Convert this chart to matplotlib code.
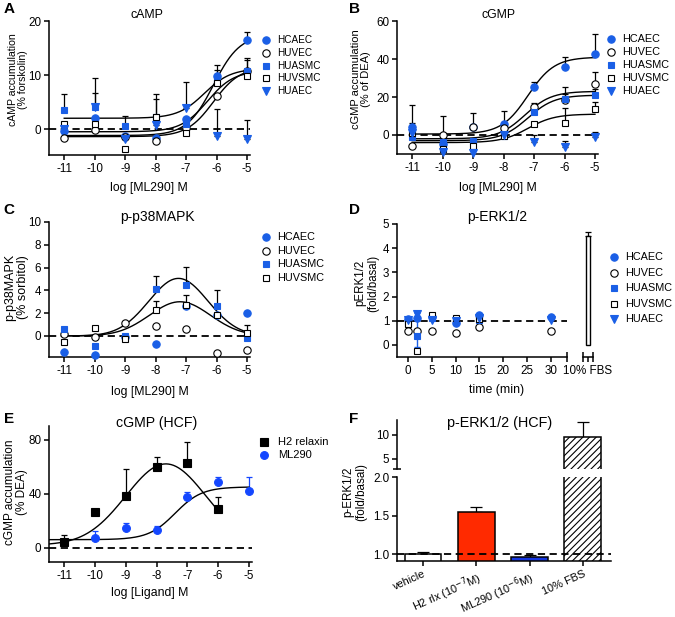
import matplotlib
matplotlib.use('Agg')
import matplotlib.pyplot as plt
import numpy as np
from matplotlib.lines import Line2D

plt.rcParams['font.family'] = ['Liberation Sans', 'DejaVu Sans']
plt.rcParams['axes.unicode_minus'] = False
plt.rcParams['hatch.linewidth'] = 0.8

W, H = 675, 617
BLUE = '#1a5fe6'
BLUE_E = '#1447ff'
RED = '#ff2a00'

# ---------------- data ----------------
log_conc = [-11, -10, -9, -8, -7, -6, -5]
cells = ['HCAEC', 'HUVEC', 'HUASMC', 'HUVSMC', 'HUAEC']

# A: cAMP accumulation (% forskolin)
camp_vals = [
    [-0.3, 2.1, -1.2, -1.7, 1.9, 9.8, 16.4],   # HCAEC
    [-1.7, -0.1, -1.4, -2.2, 0.2, 6.2, 10.7],  # HUVEC
    [3.5, 4.0, 0.5, 2.2, 1.0, 9.1, 10.7],      # HUASMC
    [1.0, 1.0, -3.7, 2.2, -0.7, 8.5, 9.8],     # HUVSMC
    [0.0, 4.1, -1.9, 0.8, 3.9, -1.2, -1.8],    # HUAEC
]
camp_err = [
    [0, 0, 0, 0, 0, 2.0, 1.5],
    [0, 0, 0, 0, 0, 0, 2.4],
    [2.9, 2.7, 2.0, 4.2, 0, 1.8, 2.0],
    [0, 0, 0, 0, 0, 0, 0],
    [0, 5.4, 0, 4.8, 4.9, 5.0, 3.4],
]
# fitted curves: bottom, top, logEC50 (HUAEC not fitted)
camp_fit = [(-1.2, 17.5, -6.1), (-1.4, 11.5, -6.1), (2.0, 11.2, -6.4), (-0.5, 10.8, -6.3)]

# B: cGMP accumulation (% of DEA)
cgmp_vals = [
    [4.4, -4.7, 4.0, 5.8, 25.1, 35.8, 42.5],
    [-5.6, 0.0, 4.4, 3.9, 14.6, 18.2, 26.7],
    [-0.9, -3.5, -3.0, -0.5, 11.9, 18.8, 21.2],
    [1.2, -7.4, -5.6, -0.5, 5.8, 6.1, 13.9],
    [1.2, -9.1, -9.3, 0.0, -3.9, -6.1, -0.9],
]
cgmp_err = [
    [11.4, 3.5, 7.8, 6.8, 2.6, 5.1, 10.5],
    [0, 10.0, 0, 0, 2.4, 6.8, 6.3],
    [0, 0, 0, 0, 0, 3.0, 3.0],
    [0, 0, 0, 0, 0, 8.3, 3.6],
    [5.0, 0, 0, 0, 4.0, 3.0, 2.3],
]
cgmp_fit = [(0.5, 41.0, -7.2), (-2.0, 23.0, -7.3), (-3.0, 21.0, -7.2), (-4.0, 11.0, -7.2)]

# C: p-p38MAPK (% sorbitol)
p38_vals = [
    [-1.4, -1.65, -0.1, -0.7, 2.6, 1.8, 2.05],
    [0.2, -0.1, 1.1, 0.85, 0.65, -1.5, -1.2],
    [0.6, -0.9, 0.0, 4.1, 4.5, 2.6, -0.2],
    [-0.5, 0.7, -0.25, 2.3, 2.7, 1.8, 0.25],
]
p38_err = [
    [0, 0, 0, 0, 0, 0, 0],
    [0, 0, 0, 0, 0, 0, 0],
    [0, 0, 0, 1.2, 1.55, 1.4, 0],
    [0, 0, 0, 0.8, 0.85, 0, 0.75],
]
# bell-shaped fits: peak, centre, width
p38_fit = [(5.05, -7.25, 0.97), (3.0, -7.2, 1.0)]

# D: p-ERK1/2 (fold/basal) time course
time_min = [0, 2, 5, 10, 15, 30]
erk_vals = [
    [1.06, 1.1, 1.17, 0.9, 1.24, 1.16],
    [0.58, 0.58, 0.58, 0.48, 0.74, 0.58],
    [0.9, 0.37, 1.13, 1.0, 1.03, None],
    [0.85, -0.27, 1.22, 1.13, 1.08, None],
    [1.05, 1.27, 1.03, 1.0, 1.13, 1.05],
]
fbs_erk, fbs_erk_err = 4.5, 0.17

# E: cGMP (HCF)
relaxin_vals = [4.4, 26.1, 38.4, 59.9, 62.3, 28.6]
relaxin_err = [5.0, 0, 19.6, 7.3, 16.0, 9.1]
relaxin_conc = [-11, -10, -9, -8, -7, -6]
ml290_conc = [-10, -9, -8, -7, -6, -5]
ml290_vals = [7.4, 14.8, 13.1, 37.2, 48.3, 41.9]
ml290_err = [4.9, 3.7, 3.0, 3.7, 4.2, 10.1]
relaxin_fit = (2.0, 60.0, -7.7, 1.3)   # base, peak, centre, width
ml290_fit = (6.0, 45.0, -7.4)          # bottom, top, logEC50

# F: p-ERK1/2 (HCF)
f_labels = ['vehicle', 'H2 rlx (10$^{-7}$M)', 'ML290 (10$^{-6}$M)', '10% FBS']
f_vals = [1.0, 1.55, 0.96, 9.4]
f_err = [0.03, 0.06, 0.03, 3.2]
f_colors = ['white', RED, '#1737e0', 'white']
f_hatch = [None, None, None, '/////']

# ---------------- styles ----------------
styles = [
    dict(marker='o', ms=5.3, mfc=BLUE, mec=BLUE, mew=0.8),
    dict(marker='o', ms=5.3, mfc='white', mec='black', mew=0.8),
    dict(marker='s', ms=5.0, mfc=BLUE, mec=BLUE, mew=0.8),
    dict(marker='s', ms=5.0, mfc='white', mec='black', mew=0.8),
    dict(marker='v', ms=5.3, mfc=BLUE, mec=BLUE, mew=0.8),
]
TICK_FS = 8.4


def px_rect(l, t, r, b):
    return [l / W, 1 - b / H, (r - l) / W, (b - t) / H]


def fx(x):
    return x / W


def fy(y):
    return 1 - y / H


def style_axes(ax):
    for s in ['top', 'right']:
        ax.spines[s].set_visible(False)
    for s in ['left', 'bottom']:
        ax.spines[s].set_linewidth(1.1)
    ax.tick_params(direction='out', length=3.5, width=1.1, labelsize=TICK_FS, pad=2)


def draw_points(ax, x, y, err, st, ecol='black'):
    x = np.array(x, dtype=float)
    y = np.array([np.nan if v is None else v for v in y], dtype=float)
    if err is not None:
        err = np.array(err, dtype=float)
        m = err > 0
        if m.any():
            ax.errorbar(x[m], y[m], yerr=[np.zeros(m.sum()), err[m]], fmt='none',
                        ecolor=ecol, elinewidth=0.9, capsize=2.5, capthick=0.9, zorder=2)
    ax.plot(x, y, linestyle='none', zorder=4, clip_on=False, **st)


def sigmoid(x, bottom, top, ec50):
    return bottom + (top - bottom) / (1 + 10 ** (ec50 - x))


def legend_px(fig, x, y0, dy, entries, tx=11, fs=7.8):
    for i, (label, st) in enumerate(entries):
        yy = fy(y0 + i * dy)
        fig.add_artist(Line2D([fx(x)], [yy], transform=fig.transFigure, linestyle='none', **st))
        fig.text(fx(x + tx), yy, label, fontsize=fs, va='center', ha='left')


def dashed(ax, y):
    ax.axhline(y, color='black', lw=1.3, ls=(0, (4, 2.5)), zorder=3)


fig = plt.figure(figsize=(W / 100, H / 100), dpi=100)
xs = np.linspace(-11, -5, 200)

# ---------------- A ----------------
axA = fig.add_axes(px_rect(49, 21, 250, 155))
style_axes(axA)
dashed(axA, 0)
for p in camp_fit:
    axA.plot(xs, sigmoid(xs, *p), color='black', lw=1.0, zorder=3)
for vals, err, st in zip(camp_vals, camp_err, styles):
    draw_points(axA, log_conc, vals, err, st)
axA.set_xlim(-11.5, -4.9)
axA.set_ylim(-4.8, 20)
axA.set_xticks(log_conc)
axA.set_yticks([0, 10, 20])

# ---------------- B ----------------
axB = fig.add_axes(px_rect(397, 21, 598, 154))
style_axes(axB)
dashed(axB, 0)
for p in cgmp_fit:
    axB.plot(xs, sigmoid(xs, *p), color='black', lw=1.0, zorder=3)
for vals, err, st in zip(cgmp_vals, cgmp_err, styles):
    draw_points(axB, log_conc, vals, err, st)
axB.set_xlim(-11.5, -4.9)
axB.set_ylim(-10, 60)
axB.set_xticks(log_conc)
axB.set_yticks([0, 20, 40, 60])

# ---------------- C ----------------
axC = fig.add_axes(px_rect(49, 222, 250, 357))
style_axes(axC)
dashed(axC, 0)
for peak, c, w in p38_fit:
    axC.plot(xs, peak * np.exp(-0.5 * ((xs - c) / w) ** 2), color='black', lw=1.0, zorder=3)
for vals, err, st in zip(p38_vals, p38_err, styles[:4]):
    draw_points(axC, log_conc, vals, err, st)
axC.set_xlim(-11.5, -4.9)
axC.set_ylim(-1.85, 10)
axC.set_xticks(log_conc)
axC.set_yticks([0, 2, 4, 6, 8, 10])

# ---------------- D ----------------
axD = fig.add_axes(px_rect(397, 224, 567, 357))
style_axes(axD)
dashed(axD, 1)
axD.errorbar([2], [erk_vals[2][1]], yerr=[[0.45], [0.95]], fmt='none', ecolor=BLUE,
             elinewidth=1.0, capsize=2.5, capthick=1.0, zorder=2)
for vals, st in zip(erk_vals, styles):
    draw_points(axD, time_min, vals, None, st)
axD.set_xlim(-2.3, 33.4)
axD.set_ylim(-0.5, 5)
axD.set_xticks([0, 5, 10, 15, 20, 25, 30])
axD.set_yticks([0, 1, 2, 3, 4, 5])
axD.plot([33.4], [-0.5], marker='|', ms=7, mew=1.1, color='black', clip_on=False)

axD2 = fig.add_axes(px_rect(583, 224, 593, 357))
style_axes(axD2)
axD2.spines['left'].set_visible(False)
axD2.bar([0], [fbs_erk], width=0.85, color='white', edgecolor='black', lw=1.0, zorder=3)
axD2.errorbar([0], [fbs_erk], yerr=[[0], [fbs_erk_err]], fmt='none', ecolor='black',
              elinewidth=0.9, capsize=2.0, capthick=0.9)
axD2.set_xlim(-1, 1)
axD2.set_ylim(-0.5, 5)
axD2.set_yticks([])
axD2.set_xticks([0])
axD2.set_xticklabels(['10% FBS'])
axD2.plot([-1, 1], [-0.5, -0.5], marker='|', ms=7, mew=1.1, color='black', lw=0, clip_on=False)

# ---------------- E ----------------
axE = fig.add_axes(px_rect(49, 426, 252, 562))
style_axes(axE)
dashed(axE, 0)
xr = np.linspace(-11.5, -6.05, 200)
b, pk, c, w = relaxin_fit
axE.plot(xr, b + pk * np.exp(-0.5 * ((xr - c) / w) ** 2), color='black', lw=1.0, zorder=3)
xm = np.linspace(-11.5, -5, 200)
axE.plot(xm, sigmoid(xm, *ml290_fit), color='black', lw=1.0, zorder=3)
st_rlx = dict(marker='s', ms=5.2, mfc='black', mec='black', mew=0.8)
st_ml = dict(marker='o', ms=5.6, mfc=BLUE_E, mec=BLUE_E, mew=0.8)
draw_points(axE, relaxin_conc, relaxin_vals, relaxin_err, st_rlx)
draw_points(axE, ml290_conc, ml290_vals, ml290_err, st_ml, ecol=BLUE_E)
axE.set_xlim(-11.5, -4.9)
axE.set_ylim(-10.5, 90)
axE.set_xticks(log_conc)
axE.set_yticks([0, 40, 80])

# ---------------- F ----------------
pos = np.arange(len(f_vals))
axF = fig.add_axes(px_rect(397, 477, 611, 561))
axFt = fig.add_axes(px_rect(397, 420, 611, 469))
for ax in (axF, axFt):
    style_axes(ax)
    ax.bar(pos, f_vals, width=0.69, color=f_colors, edgecolor='black', lw=1.1,
           hatch=f_hatch, zorder=2)
    ax.errorbar(pos, f_vals, yerr=[np.zeros(len(f_err)), f_err], fmt='none', ecolor='black',
                elinewidth=0.9, capsize=4.5, capthick=0.9, zorder=1)
    ax.set_xlim(-0.49, 3.53)
dashed(axF, 1.0)
axF.set_ylim(0.91, 2.0)
axF.set_yticks([1.0, 1.5, 2.0])
axF.set_yticklabels(['1.0', '1.5', '2.0'])
axF.set_xticks(pos)
axF.set_xticklabels(f_labels, rotation=24, ha='right', rotation_mode='anchor', fontsize=7.9)
axFt.set_ylim(2.9, 13)
axFt.set_yticks([5, 10])
axFt.spines['bottom'].set_visible(False)
axFt.set_xticks([])
axFt.plot([-0.49], [2.9], marker='_', ms=6, mew=1.1, color='black', clip_on=False)

# ---------------- labels ----------------
fig.text(fx(147), fy(15), 'cAMP', fontsize=8.9, ha='center', va='center')
fig.text(fx(498), fy(15), 'cGMP', fontsize=8.8, ha='center', va='center')
fig.text(fx(157), fy(217), 'p-p38MAPK', fontsize=10, ha='center', va='center')
fig.text(fx(497), fy(217), 'p-ERK1/2', fontsize=10, ha='center', va='center')
fig.text(fx(157), fy(423), 'cGMP (HCF)', fontsize=10.2, ha='center', va='center')
fig.text(fx(500), fy(423), 'p-ERK1/2 (HCF)', fontsize=10.4, ha='center', va='center')

let = dict(fontsize=11, fontweight='bold', ha='center', va='center')
for s, x, y in [('A', 9, 9), ('B', 354, 9), ('C', 9, 210), ('D', 354, 210), ('E', 9, 419), ('F', 354, 419)]:
    fig.text(fx(x), fy(y), s, **let)

xl = dict(fontsize=8.8, ha='center', va='center')
fig.text(fx(149), fy(188), 'log [ML290] M', **xl)
fig.text(fx(498), fy(188), 'log [ML290] M', **xl)
fig.text(fx(150), fy(392), 'log [ML290] M', **xl)
fig.text(fx(497), fy(390), 'time (min)', **xl)
fig.text(fx(150), fy(593), 'log [Ligand] M', **xl)

yl = dict(ha='center', va='center', rotation=90, linespacing=1.1, multialignment='center')
fig.text(fx(18), fy(80), 'cAMP accumulation\n(% forskolin)', fontsize=7.6, **yl)
fig.text(fx(361), fy(79), 'cGMP accumulation\n(% of DEA)', fontsize=8.0, **yl)
fig.text(fx(17), fy(287), 'p-p38MAPK\n(% sorbitol)', fontsize=9.0, **yl)
fig.text(fx(367), fy(283), 'pERK1/2\n(fold/basal)', fontsize=8.3, **yl)
fig.text(fx(16), fy(492), 'cGMP accumulation\n(% DEA)', fontsize=8.5, **yl)
fig.text(fx(355), fy(492), 'p-ERK1/2\n(fold/basal)', fontsize=8.4, **yl)

# ---------------- legends ----------------
legend_px(fig, 266, 40, 12.8, list(zip(cells, styles)), fs=7.2)
legend_px(fig, 611, 39, 13.0, list(zip(cells, styles)))
legend_px(fig, 266, 237, 13.7, list(zip(cells[:4], styles[:4])))
legend_px(fig, 614, 257, 15.6, list(zip(cells, styles)))
legend_px(fig, 264, 442, 13.3, [('H2 relaxin', st_rlx), ('ML290', st_ml)], tx=14, fs=8.0)

fig.savefig('out.png', dpi=100)
